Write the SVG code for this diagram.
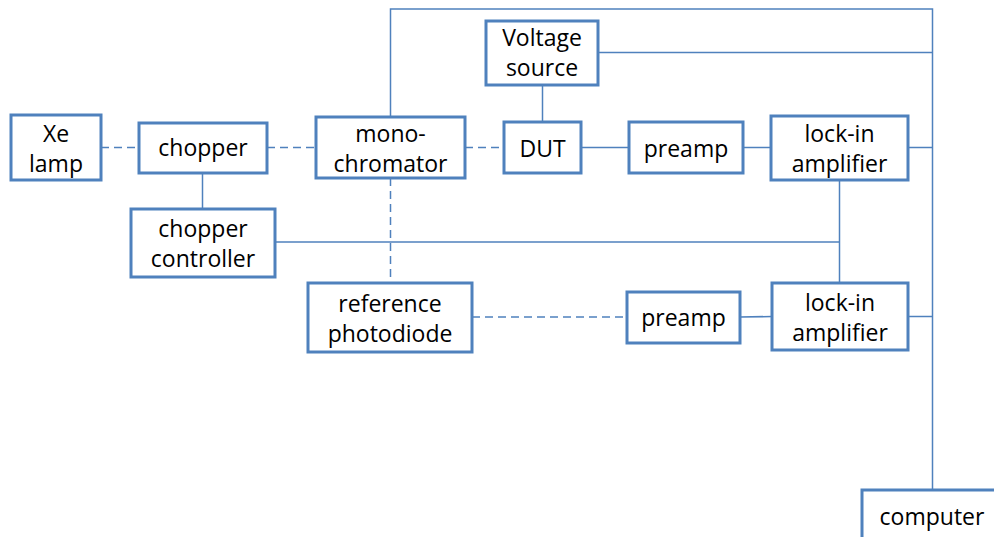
<svg xmlns="http://www.w3.org/2000/svg" width="994" height="537" viewBox="0 0 994 537">
<style>
.box{fill:#fff;stroke:#4F81BD;stroke-width:3}
.ln{fill:none;stroke:#4F81BD;stroke-width:1.5}
.dash{fill:none;stroke:#4F81BD;stroke-width:1.5;stroke-dasharray:8 5}
text{font-family:"Open Sans","Noto Sans",sans-serif;font-size:23px;fill:#000;text-anchor:middle}
</style>
<rect width="994" height="537" fill="#fff"/>
<g id="connectors">
<line class="dash" x1="101" y1="147.5" x2="139" y2="147.5"/>
<line class="dash" x1="267" y1="147.5" x2="316" y2="147.5"/>
<line class="dash" x1="465" y1="147.5" x2="504" y2="147.5"/>
<line class="dash" x1="390.5" y1="178" x2="390.5" y2="283"/>
<line class="dash" x1="472" y1="317" x2="627" y2="317"/>
<line class="ln" x1="202.5" y1="173" x2="202.5" y2="209"/>
<line class="ln" x1="275" y1="242" x2="839.5" y2="242"/>
<line class="ln" x1="839.5" y1="180" x2="839.5" y2="283"/>
<polyline class="ln" points="390.5,117 390.5,9 932.5,9 932.5,490"/>
<line class="ln" x1="598" y1="52.5" x2="932.5" y2="52.5"/>
<line class="ln" x1="542.5" y1="85" x2="542.5" y2="122"/>
<line class="ln" x1="581" y1="147.5" x2="629" y2="147.5"/>
<line class="ln" x1="743" y1="147.5" x2="771" y2="147.5"/>
<line class="ln" x1="908" y1="147.5" x2="932.5" y2="147.5"/>
<line class="ln" x1="740" y1="317" x2="772" y2="316.5"/>
<line class="ln" x1="908" y1="316.5" x2="932.5" y2="316.5"/>
</g>
<g id="xe-lamp"><rect class="box" x="11" y="115" width="90" height="65"/><text x="56" y="142">Xe</text><text x="56" y="172">lamp</text></g>
<g id="chopper"><rect class="box" x="139" y="123" width="128" height="50"/><text x="203" y="156">chopper</text></g>
<g id="chopper-controller"><rect class="box" x="131" y="209" width="144" height="68"/><text x="203" y="237">chopper</text><text x="203" y="267">controller</text></g>
<g id="monochromator"><rect class="box" x="316" y="117" width="149" height="61"/><text x="390.5" y="142">mono-</text><text x="390.5" y="172">chromator</text></g>
<g id="voltage-source"><rect class="box" x="486" y="21" width="112" height="64"/><text x="542" y="46">Voltage</text><text x="542" y="76">source</text></g>
<g id="dut"><rect class="box" x="504" y="122" width="77" height="51"/><text x="542.5" y="157">DUT</text></g>
<g id="preamp1"><rect class="box" x="629" y="122" width="114" height="51"/><text x="686" y="157">preamp</text></g>
<g id="lockin1"><rect class="box" x="771" y="116" width="137" height="64"/><text x="839.5" y="142">lock-in</text><text x="839.5" y="172">amplifier</text></g>
<g id="reference-photodiode"><rect class="box" x="308" y="283" width="164" height="69"/><text x="390" y="312">reference</text><text x="390" y="342">photodiode</text></g>
<g id="preamp2"><rect class="box" x="627" y="292" width="113" height="51"/><text x="683.5" y="326">preamp</text></g>
<g id="lockin2"><rect class="box" x="772" y="283" width="136" height="67"/><text x="840" y="311">lock-in</text><text x="840" y="341">amplifier</text></g>
<g id="computer"><rect class="box" x="862" y="490" width="140" height="60"/><text x="932" y="525">computer</text></g>
</svg>
